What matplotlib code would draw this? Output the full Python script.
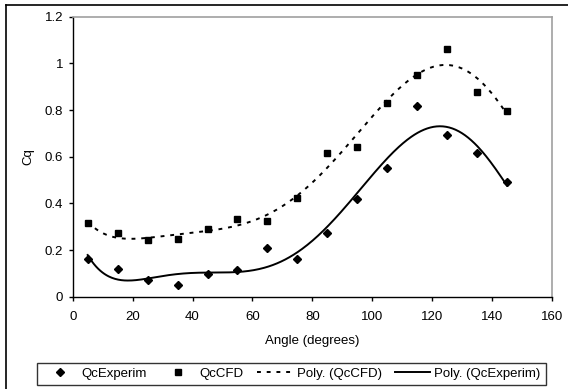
import numpy as np
import matplotlib
matplotlib.use("Agg")
import matplotlib.pyplot as plt
from matplotlib.lines import Line2D

angles = [5, 15, 25, 35, 45, 55, 65, 75, 85, 95, 105, 115, 125, 135, 145]
qc_experim = [0.163, 0.117, 0.070, 0.050, 0.099, 0.113, 0.210, 0.162, 0.272, 0.419, 0.553, 0.817, 0.693, 0.615, 0.490]
qc_cfd = [0.315, 0.272, 0.243, 0.247, 0.289, 0.333, 0.324, 0.424, 0.617, 0.643, 0.832, 0.949, 1.060, 0.879, 0.796]
x_ticks = [0, 20, 40, 60, 80, 100, 120, 140, 160]
y_ticks = [0, 0.2, 0.4, 0.6, 0.8, 1, 1.2]
y_ticklabels = ["0", "0.2", "0.4", "0.6", "0.8", "1", "1.2"]
poly_order = 6

plt.rcParams['font.family'] = ['Liberation Sans', 'DejaVu Sans']
W, H = 568, 389
FS = 9.5
fig = plt.figure(figsize=(W / 100, H / 100), dpi=100)
ax = fig.add_axes([72.7 / W, 1 - 296.7 / H, (552 - 72.7) / W, (296.7 - 16.7) / H])

x = np.array(angles, dtype=float)
xs = np.linspace(x.min(), x.max(), 400)
fit_cfd = np.polynomial.Polynomial.fit(x, qc_cfd, poly_order)
fit_exp = np.polynomial.Polynomial.fit(x, qc_experim, poly_order)

ax.plot(xs, fit_cfd(xs), color='black', lw=1.4, dashes=(2.0, 3.0), zorder=2)
ax.plot(xs, fit_exp(xs), color='black', lw=1.4, zorder=2)
ax.plot(angles, qc_experim, linestyle='none', marker='D', ms=4.2, color='black', zorder=3)
ax.plot(angles, qc_cfd, linestyle='none', marker='s', ms=4.6, color='black', zorder=3)

ax.set_xlim(0, 160)
ax.set_ylim(0, 1.2)
ax.set_xticks(x_ticks)
ax.set_yticks(y_ticks)
ax.set_yticklabels(y_ticklabels)
ax.tick_params(direction='out', length=3, width=1, labelsize=FS, colors='black')
ax.tick_params(axis='x', pad=7)
ax.tick_params(axis='y', pad=4)
for s in ['left', 'bottom']:
    ax.spines[s].set_color('black')
    ax.spines[s].set_linewidth(1.0)
for s in ['top', 'right']:
    ax.spines[s].set_color('#a0a0a0')
    ax.spines[s].set_linewidth(1.2)
ax.set_xlabel('Angle (degrees)', fontsize=FS, labelpad=9)
ax.set_ylabel('Cq', fontsize=FS, labelpad=7)

# outer frame (left and top visible)
fig.add_artist(Line2D([6 / W, 6 / W], [0, 1 - 5 / H], color='black', lw=1.2, transform=fig.transFigure))
fig.add_artist(Line2D([6 / W, 1], [1 - 5 / H, 1 - 5 / H], color='black', lw=1.2, transform=fig.transFigure))

handles = [
    Line2D([], [], linestyle='none', marker='D', ms=4.2, color='black'),
    Line2D([], [], linestyle='none', marker='s', ms=4.6, color='black'),
    Line2D([], [], color='black', lw=1.4, dashes=(2.0, 3.0)),
    Line2D([], [], color='black', lw=1.4),
]
labels = ['QcExperim', 'QcCFD', 'Poly. (QcCFD)', 'Poly. (QcExperim)']
leg = fig.legend(handles, labels, loc='lower left',
                 bbox_to_anchor=(36.7 / W, 1 - 385.3 / H),
                 ncol=4, fontsize=FS, frameon=True, fancybox=False,
                 edgecolor='black', borderaxespad=0, handlelength=2.7, handletextpad=0.3,
                 columnspacing=1.0, borderpad=0.4)
leg.get_frame().set_linewidth(1.0)

fig.savefig('out.png', dpi=100)
